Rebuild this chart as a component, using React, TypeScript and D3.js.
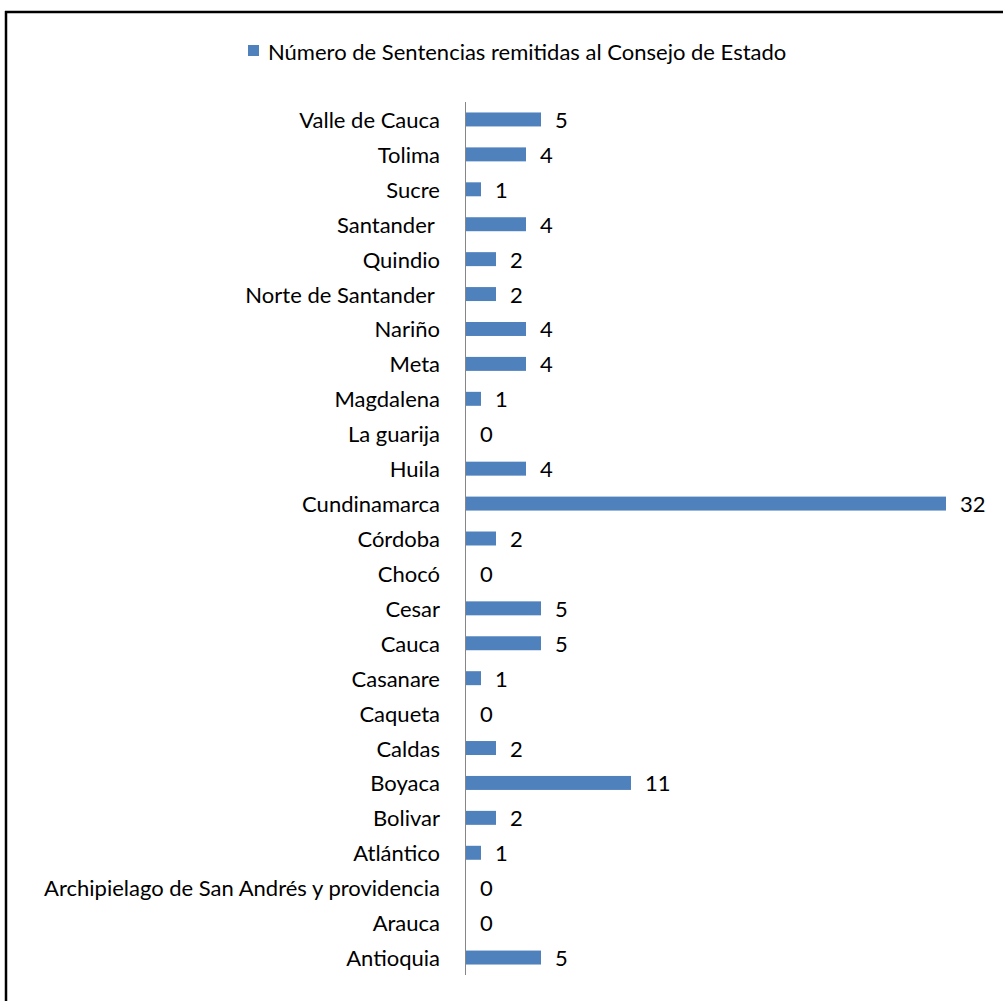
import React from "react";
import * as d3 from "d3";

const categories = [
  "Valle de Cauca", "Tolima", "Sucre", "Santander ", "Quindio", "Norte de Santander ",
  "Nariño", "Meta", "Magdalena", "La guarija", "Huila", "Cundinamarca", "Córdoba",
  "Chocó", "Cesar", "Cauca", "Casanare", "Caqueta", "Caldas", "Boyaca", "Bolivar",
  "Atlántico", "Archipielago de San Andrés y providencia", "Arauca", "Antioquia",
];
const values = [5, 4, 1, 4, 2, 2, 4, 4, 1, 0, 4, 32, 2, 0, 5, 5, 1, 0, 2, 11, 2, 1, 0, 0, 5];
const seriesName = "Número de Sentencias remitidas al Consejo de Estado";

const W = 1003, H = 1001;
const FONT = "Lato, 'Open Sans', sans-serif";
const FS = 22;

export default function App() {
  const y = d3.scaleBand<string>().domain(categories).range([102, 975]).paddingInner(0.6).paddingOuter(0.3);
  const x = d3.scaleLinear().domain([0, 32]).range([465, 945]);
  const color = "#4F81BD";

  return (
    <svg width={W} height={H} style={{ position: "absolute", left: 0, top: 0, background: "#fff" }}>
      <rect x={0} y={0} width={W} height={H} fill="#fff" />
      <line x1={5} x2={W} y1={12} y2={12} stroke="#000" strokeWidth={2.5} />
      <line x1={6} x2={6} y1={11} y2={H} stroke="#000" strokeWidth={2.5} />
      <rect x={248} y={45} width={11} height={11} fill={color} />
      <text x={268} y={51} dominantBaseline="central" fontFamily={FONT} fontSize={FS} fill="#000">{seriesName}</text>
      <line x1={465.5} x2={465.5} y1={102} y2={975} stroke="#868686" strokeWidth={1} />
      {categories.map((c, i) => (
        <g key={c}>
          <rect x={x(0) + 1} y={y(c)!} width={x(values[i]) - x(0)} height={y.bandwidth()} fill={color} />
          <text x={440} y={y(c)! + y.bandwidth() / 2} textAnchor="end" dominantBaseline="central"
            fontFamily={FONT} fontSize={FS} fill="#000" style={{ whiteSpace: "pre" }}>{c}</text>
          <text x={x(values[i]) + 15} y={y(c)! + y.bandwidth() / 2} dominantBaseline="central"
            fontFamily={FONT} fontSize={FS} fill="#000">{values[i]}</text>
        </g>
      ))}
    </svg>
  );
}
